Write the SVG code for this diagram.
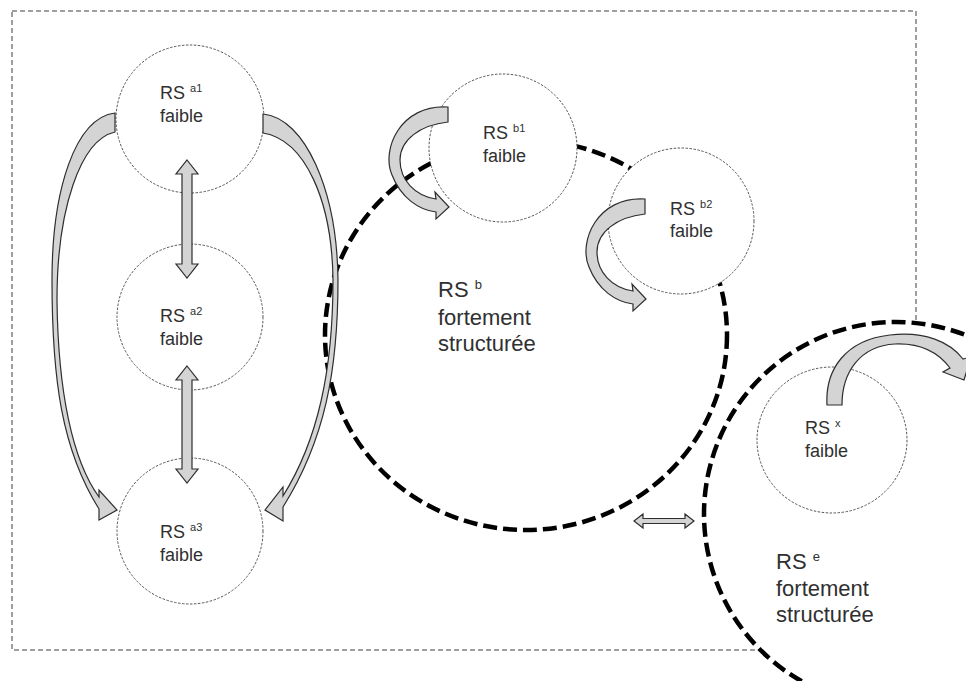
<svg xmlns="http://www.w3.org/2000/svg" xmlns:xlink="http://www.w3.org/1999/xlink" width="966" height="681" viewBox="0 0 966 681">
<style>
.frame{fill:none;stroke:#808080;stroke-width:1.5;stroke-dasharray:5 3}
.big{stroke:#000;stroke-width:4.5;stroke-dasharray:14 6}
.small{fill:#fff;stroke:#555;stroke-width:1;stroke-dasharray:2.5 1.5}
.arr{fill:#d4d4d4;stroke:#2e2e2e;stroke-width:1.2;stroke-linejoin:miter}
.t{font-family:"Liberation Sans",Arial,Helvetica,sans-serif;fill:#303030}
.s{font-size:18px}
.l{font-size:22px}
</style>
<defs>
<path id="uturn" d="M448,107 C400,104 381,150 392,175 C401,198 419,210 436,212 L436,219 L449,207 L435,192 L436,199 C415,196 400,180 400,160 C400,140 420,125 448,122 Z"/>
</defs>
<rect class="frame" x="12" y="11" width="904" height="639"/>
<g id="rs-b">
<ellipse class="big" cx="526" cy="335" rx="201" ry="195" fill="none"/>
<text class="t l" x="438" y="297">RS <tspan font-size="13" dy="-8">b</tspan></text>
<text class="t l" x="438" y="325">fortement</text>
<text class="t l" x="438" y="351">structurée</text>
</g>
<g id="rs-e">
<circle class="big" cx="896" cy="514" r="192" fill="#fff"/>
<text class="t l" x="776" y="569">RS <tspan font-size="13" dy="-8">e</tspan></text>
<text class="t l" x="776" y="596">fortement</text>
<text class="t l" x="776" y="622">structurée</text>
</g>
<g id="rs-a1">
<circle class="small" cx="190" cy="119" r="74"/>
<text class="t s" x="160" y="99">RS <tspan font-size="11" dy="-7">a1</tspan></text>
<text class="t s" x="160" y="122">faible</text>
</g>
<g id="rs-a2">
<circle class="small" cx="190" cy="317" r="73"/>
<text class="t s" x="160" y="322">RS <tspan font-size="11" dy="-7">a2</tspan></text>
<text class="t s" x="160" y="345">faible</text>
</g>
<g id="rs-a3">
<circle class="small" cx="190" cy="531" r="73"/>
<text class="t s" x="160" y="538">RS <tspan font-size="11" dy="-7">a3</tspan></text>
<text class="t s" x="160" y="561">faible</text>
</g>
<g id="rs-b1">
<circle class="small" cx="503" cy="148" r="74"/>
<text class="t s" x="483" y="139">RS <tspan font-size="11" dy="-7">b1</tspan></text>
<text class="t s" x="483" y="162">faible</text>
</g>
<g id="rs-b2">
<circle class="small" cx="681" cy="221" r="73"/>
<text class="t s" x="670" y="215">RS <tspan font-size="11" dy="-7">b2</tspan></text>
<text class="t s" x="670" y="237">faible</text>
</g>
<g id="rs-x">
<ellipse class="small" cx="832" cy="440" rx="75" ry="73"/>
<text class="t s" x="805" y="434">RS <tspan font-size="11" dy="-7">x</tspan></text>
<text class="t s" x="805" y="457">faible</text>
</g>
<g id="connectors">
<path class="arr" d="M115,113 C75,118 52,190 52,280 C52,380 62,450 99,509 L99,520 L117,510 L99,490 L99,497 C72,460 58,390 57,300 C57,210 80,140 115,132 Z"/>
<path class="arr" d="M263,114 C305,118 337,190 338,280 C338,370 325,440 283,507 L283,521 L265,510 L283,487 L283,496 C318,440 333,370 333,280 C332,200 305,140 263,133 Z"/>
<path class="arr" d="M187,160 L198,174 L192,174 L192,264 L198,264 L187,278 L176,264 L182,264 L182,174 L176,174 Z"/>
<path class="arr" d="M187,366 L198,380 L192,380 L192,469 L198,469 L187,483 L176,469 L182,469 L182,380 L176,380 Z"/>
<path class="arr" d="M634,521 L643,514 L643,518.5 L685,518.5 L685,514 L694,521 L685,528 L685,523.5 L643,523.5 L643,528 Z"/>
<use xlink:href="#uturn" class="arr"/>
<use xlink:href="#uturn" class="arr" transform="translate(197,92)"/>
<path class="arr" d="M827,405 C825,370 845,340 890,335 C925,331 950,342 963,359 L971,357 L964,380 L943,372 L950,368 C938,352 920,343 895,344 C860,346 842,372 842,405 Z"/>
</g>
</svg>
